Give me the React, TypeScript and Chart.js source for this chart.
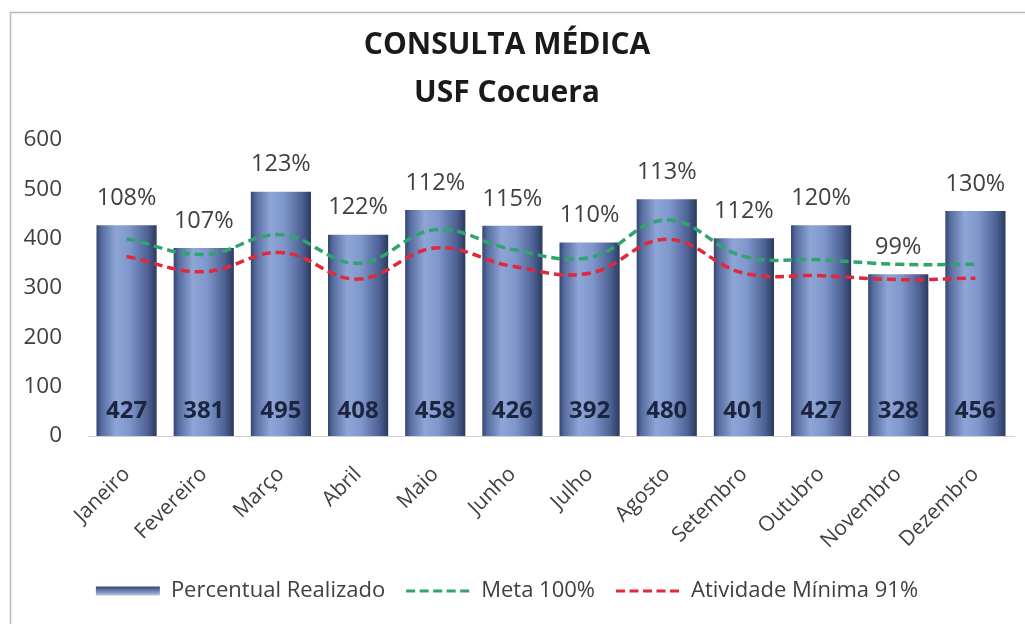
import React, { useEffect, useRef } from "react";
import { Chart, registerables } from "chart.js";

Chart.register(...registerables);

const months = ["Janeiro", "Fevereiro", "Março", "Abril", "Maio", "Junho", "Julho", "Agosto", "Setembro", "Outubro", "Novembro", "Dezembro"];
const realizado = [427, 381, 495, 408, 458, 426, 392, 480, 401, 427, 328, 456];
const percentuais = ["108%", "107%", "123%", "122%", "112%", "115%", "110%", "113%", "112%", "120%", "99%", "130%"];
const meta100 = [400, 368, 408, 350, 418, 378, 362, 438, 364, 357, 348, 348];
const atividadeMinima = [364, 333, 372, 318, 381, 344, 330, 399, 330, 325, 317, 320];
const yTicks = [0, 100, 200, 300, 400, 500, 600];

const FONT = "'Open Sans', Lato, sans-serif";
const BAR_FRACTION = 0.78;

const labelsPlugin = {
  id: "barLabels",
  afterDatasetsDraw(chart: any) {
    const ctx = chart.ctx;
    const meta = chart.getDatasetMeta(0);
    const yScale = chart.scales.y;
    ctx.save();
    ctx.textAlign = "center";
    ctx.textBaseline = "middle";
    meta.data.forEach((bar: any, i: number) => {
      ctx.font = `23.5px ${FONT}`;
      ctx.fillStyle = "#404040";
      ctx.fillText(percentuais[i], bar.x, bar.y - 27);
      ctx.font = `bold 24px ${FONT}`;
      ctx.fillStyle = "#1c2540";
      ctx.fillText(String(realizado[i]), bar.x, yScale.getPixelForValue(0) - 25);
    });
    ctx.restore();
  },
};

const framePlugin = {
  id: "frame",
  beforeDraw(chart: any) {
    const ctx = chart.ctx;
    ctx.save();
    ctx.fillStyle = "#ffffff";
    ctx.fillRect(0, 0, chart.width, chart.height);
    ctx.strokeStyle = "#b8b8b8";
    ctx.lineWidth = 1.5;
    ctx.strokeRect(10.5, 12.5, chart.width + 20, chart.height + 20);
    ctx.restore();
  },
};

function barGradient(c: any) {
  const chart = c.chart;
  const xs = chart.scales && chart.scales.x;
  if (!xs || c.dataIndex === undefined || !xs.width) return "#5a6d9c";
  const cx = xs.getPixelForValue(c.dataIndex);
  const w = (xs.width / months.length) * BAR_FRACTION;
  const g = chart.ctx.createLinearGradient(cx - w / 2, 0, cx + w / 2, 0);
  g.addColorStop(0, "#34456f");
  g.addColorStop(0.08, "#566b9e");
  g.addColorStop(0.32, "#8ea5d6");
  g.addColorStop(0.55, "#7f97cc");
  g.addColorStop(0.85, "#4d6193");
  g.addColorStop(1, "#2b3a5e");
  return g;
}

export default function App() {
  const ref = useRef<HTMLCanvasElement | null>(null);

  useEffect(() => {
    if (!ref.current) return;
    const cv = ref.current;
    const legendFill = (() => {
      const g = cv.getContext("2d")!.createLinearGradient(0, 587, 0, 597);
      g.addColorStop(0, "#3a4b78");
      g.addColorStop(0.5, "#7d90bd");
      g.addColorStop(1, "#d3dbee");
      return g;
    })();
    const chart = new Chart(cv, {
      type: "bar",
      data: {
        labels: months,
        datasets: [
          {
            type: "bar",
            label: "Percentual Realizado",
            data: realizado,
            backgroundColor: barGradient as any,
            borderWidth: 0,
            categoryPercentage: 1,
            barPercentage: BAR_FRACTION,
            order: 3,
          },
          {
            type: "line",
            label: "Meta 100%",
            data: meta100,
            borderColor: "#2fa56e",
            backgroundColor: "#2fa56e",
            borderWidth: 3.5,
            borderDash: [9, 5],
            tension: 0.4,
            pointRadius: 0,
            fill: false,
            order: 2,
          },
          {
            type: "line",
            label: "Atividade Mínima 91%",
            data: atividadeMinima,
            borderColor: "#e02a3c",
            backgroundColor: "#e02a3c",
            borderWidth: 3.5,
            borderDash: [9, 5],
            tension: 0.4,
            pointRadius: 0,
            fill: false,
            order: 1,
          },
        ],
      },
      options: {
        responsive: false,
        animation: false,
        layout: { padding: { left: 0, right: 11, top: 0, bottom: 12 } },
        plugins: {
          title: {
            display: true,
            text: ["CONSULTA MÉDICA", "USF Cocuera"],
            color: "#1a1a1a",
            font: { family: FONT, size: 30, weight: "bold", lineHeight: 1.6 },
            padding: { top: 21, bottom: 23 },
          },
          legend: {
            position: "bottom",
            labels: {
              color: "#404040",
              font: { family: FONT, size: 22 },
              usePointStyle: true,
              pointStyleWidth: 64,
              boxWidth: 64,
              boxHeight: 9,
              padding: 21,
              generateLabels: (ch: any) => {
                const items = Chart.defaults.plugins.legend.labels.generateLabels(ch);
                items.sort((a: any, b: any) => a.datasetIndex - b.datasetIndex);
                items.forEach((it: any) => {
                  if (it.datasetIndex === 0) {
                    it.pointStyle = "rect";
                    it.fillStyle = legendFill;
                    it.strokeStyle = "#5a6d9c";
                    it.lineWidth = 0;
                  } else {
                    it.pointStyle = "line";
                    it.lineDash = [9, 4.5];
                    it.lineWidth = 3;
                  }
                });
                return items;
              },
            },
          },
          tooltip: { enabled: false },
        },
        scales: {
          x: {
            grid: { display: false },
            border: { display: true, color: "#d0d0d0", width: 1 },
            ticks: {
              color: "#404040",
              font: { family: FONT, size: 21 },
              minRotation: 45,
              maxRotation: 45,
              padding: 18,
            },
            afterFit: (s: any) => {
              s.height = 123;
            },
          },
          y: {
            min: 0,
            max: 600,
            grid: { display: false, drawTicks: false },
            border: { display: false },
            afterBuildTicks: (s: any) => {
              s.ticks = yTicks.map((v) => ({ value: v }));
            },
            ticks: {
              color: "#404040",
              font: { family: FONT, size: 22.5 },
              padding: 26,
            },
            afterFit: (s: any) => {
              s.width = 88;
            },
          },
        },
      },
      plugins: [framePlugin, labelsPlugin],
    });
    return () => chart.destroy();
  }, []);

  return (
    <div style={{ position: "absolute", left: 0, top: 0, width: 1025, height: 624, overflow: "hidden", background: "#fff" }}>
      <canvas ref={ref} width={1025} height={624} style={{ display: "block" }} />
    </div>
  );
}
